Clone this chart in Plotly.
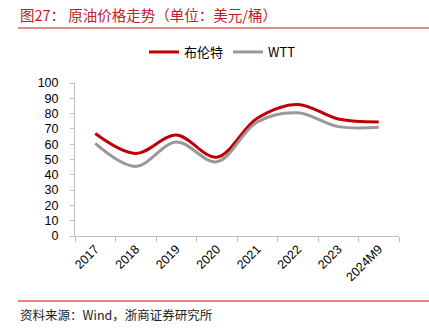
import plotly.graph_objects as go

categories = ["2017", "2018", "2019", "2020", "2021", "2022", "2023", "2024M9"]
brent = [67, 54, 66, 51.5, 77, 86, 76.5, 74.5]
wti = [60.5, 45.5, 61.5, 48.5, 74.5, 80.5, 71.5, 71]
yticks = [0, 10, 20, 30, 40, 50, 60, 70, 80, 90, 100]

L, R, T, B = 75, 30, 83, 96
W, H = 429, 332
pw, ph = W - L - R, H - T - B

def px(x):
    return (x - L) / pw

def py(y):
    return (H - B - y) / ph

fig = go.Figure()
fig.add_trace(go.Scatter(x=categories, y=brent, name="布伦特", mode="lines",
                         line=dict(color="#c00000", width=3, shape="spline", smoothing=1.0)))
fig.add_trace(go.Scatter(x=categories, y=wti, name="WTT", mode="lines",
                         line=dict(color="#999999", width=3, shape="spline", smoothing=1.0)))

axis_font = dict(family="Liberation Sans, Arial, sans-serif", size=12.5, color="#000000")
fig.update_layout(
    width=W, height=H,
    margin=dict(l=L, r=R, t=T, b=B),
    paper_bgcolor="white", plot_bgcolor="white",
    showlegend=True,
    legend=dict(orientation="h", x=px(144), y=py(52), xanchor="left", yanchor="middle",
                font=dict(family="Noto Sans CJK SC, Liberation Sans, sans-serif", size=13, color="#000"),
                itemwidth=30, bgcolor="rgba(0,0,0,0)"),
    xaxis=dict(type="category", showgrid=False, showline=True, linecolor="#bfbfbf", linewidth=1,
               ticks="outside", tickson="boundaries", ticklen=5, tickcolor="#bfbfbf",
               tickangle=-45, tickfont=axis_font, range=[-0.5, 7.5]),
    yaxis=dict(range=[0, 100], tickvals=yticks, showgrid=False, showline=True, linecolor="#bfbfbf",
               linewidth=1, ticks="outside", ticklen=4, tickcolor="#bfbfbf", tickfont=axis_font,
               ticklabelstandoff=9, zeroline=False),
)

fig.add_annotation(text="图27： 原油价格走势（单位：美元/桶）", xref="paper", yref="paper",
                   x=px(18), y=py(14), xanchor="left", yanchor="middle", showarrow=False,
                   font=dict(family="Noto Sans CJK SC, serif", size=14.5, color="#c0202a"))
fig.add_annotation(text="资料来源：Wind，浙商证券研究所", xref="paper", yref="paper",
                   x=px(18), y=py(314), xanchor="left", yanchor="middle", showarrow=False,
                   font=dict(family="Noto Sans CJK SC, serif", size=12.5, color="#222222"))
fig.add_shape(type="line", xref="paper", yref="paper", x0=px(18), x1=px(429), y0=py(28), y1=py(28),
              line=dict(color="#e08a8a", width=2))
fig.add_shape(type="line", xref="paper", yref="paper", x0=px(18), x1=px(429), y0=py(301), y1=py(301),
              line=dict(color="#e00000", width=1))

fig.write_html("out.html")
